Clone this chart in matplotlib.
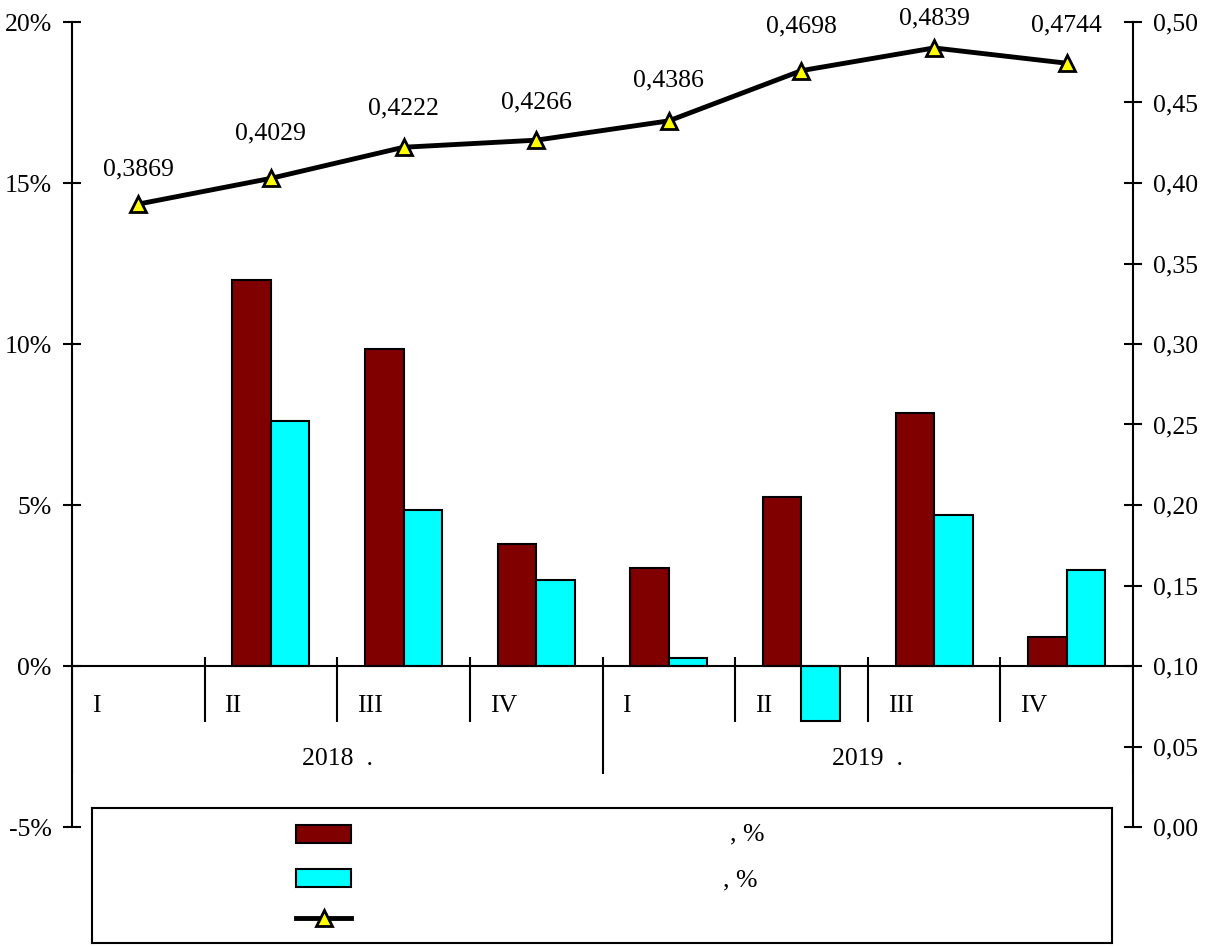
import matplotlib
matplotlib.use("Agg")
import matplotlib.pyplot as plt
from matplotlib.patches import Rectangle
from matplotlib.lines import Line2D
import numpy as np

plt.rcParams['font.family'] = ['Liberation Serif', 'DejaVu Serif']

# ── данные ───────────────────────────────────────────────────────────────────
quarters = ["I", "II", "III", "IV", "I", "II", "III", "IV"]
years = ["2018  .", "2019  ."]
red_vals = [np.nan, 12.0, 9.85, 3.8, 3.05, 5.25, 7.85, 0.9]
cyan_vals = [np.nan, 7.6, 4.84, 2.67, 0.25, -1.7, 4.69, 2.98]
line_vals = [0.3869, 0.4029, 0.4222, 0.4266, 0.4386, 0.4698, 0.4839, 0.4744]
left_ticks = [-5, 0, 5, 10, 15, 20]
right_ticks = [0.0, 0.05, 0.10, 0.15, 0.20, 0.25, 0.30, 0.35, 0.40, 0.45, 0.50]

# сдвиг подписей над маркерами (pt)
label_dy = [25, 32, 28, 27, 29, 32, 21, 27]

W, H = 1206, 947
FS = 18.5
RED = "#800000"
CYAN = "#00FFFF"

fig = plt.figure(figsize=(W / 100, H / 100), dpi=100)
ax = fig.add_axes([72 / W, (H - 827) / H, (1133 - 72) / W, (827 - 22) / H])
n = len(quarters)
x = np.arange(n) + 0.5
bw = 0.29

ax.bar(x - bw / 2, red_vals, bw, color=RED, edgecolor="black", lw=1.5, zorder=3)
ax.bar(x + bw / 2, cyan_vals, bw, color=CYAN, edgecolor="black", lw=1.5, zorder=3)
ax.set_xlim(0, n)
ax.set_ylim(-5, 20)
ax.set_xticks([])
ax.set_yticks(left_ticks)
ax.set_yticklabels([f"{v}%" for v in left_ticks], fontsize=FS)
ax.tick_params(axis="y", direction="inout", length=13, width=1.5, pad=8)
for s in ["top", "bottom", "right"]:
    ax.spines[s].set_visible(False)
ax.spines["left"].set_linewidth(1.5)

# ось категорий на нуле
ax.axhline(0, color="black", lw=1.5, zorder=4)
ax.vlines([1, 2, 3, 5, 6, 7], -1.74, 0.28, color="black", lw=1.5, zorder=4)
ax.vlines([4], -3.35, 0.28, color="black", lw=1.5, zorder=4)
ax.vlines([0, n], -3.35, 0, color="black", lw=1.5, zorder=4)
for i, q in enumerate(quarters):
    ax.text(i + 0.15, -1.24, q, fontsize=FS, ha="left", va="center")
for j, y in enumerate(years):
    ax.text(2 + 4 * j, -2.89, y, fontsize=FS, ha="center", va="center")

# правая ось
ax2 = ax.twinx()
ax2.set_ylim(0, 0.5)
ax2.set_yticks(right_ticks)
ax2.set_yticklabels([f"{v:.2f}".replace(".", ",") for v in right_ticks], fontsize=FS)
ax2.tick_params(axis="y", direction="inout", length=13, width=1.5, pad=8)
for s in ["top", "bottom", "left"]:
    ax2.spines[s].set_visible(False)
ax2.spines["right"].set_linewidth(1.5)
ax2.plot(x, line_vals, color="black", lw=3.5, marker="^", ms=12,
         mfc="#FFFF00", mec="black", mew=2, zorder=5)
for xi, v, dy in zip(x, line_vals, label_dy):
    ax2.annotate(f"{v:.4f}".replace(".", ","), (xi, v), xytext=(0, dy),
                 textcoords="offset points", ha="center", va="center", fontsize=FS)

# легенда
lg = fig.add_axes([92 / W, (H - 943) / H, (1112 - 92) / W, (943 - 808) / H])
lg.set_xlim(92, 1112)
lg.set_ylim(943, 808)
lg.set_xticks([]); lg.set_yticks([])
for s in lg.spines.values():
    s.set_linewidth(1.5)
lg.add_patch(Rectangle((296, 825), 55, 18, facecolor=RED, edgecolor="black", lw=1.5))
lg.add_patch(Rectangle((296, 869), 55, 18, facecolor=CYAN, edgecolor="black", lw=1.5))
lg.add_line(Line2D([296, 323.5, 351], [918, 918, 918], color="black", lw=3.5,
                   marker="^", markevery=[1], ms=12, mfc="#FFFF00", mec="black", mew=2))
lg.text(747, 834, ", %", fontsize=FS, ha="center", va="center")
lg.text(740, 880, ", %", fontsize=FS, ha="center", va="center")

fig.savefig("out.png", dpi=100)
